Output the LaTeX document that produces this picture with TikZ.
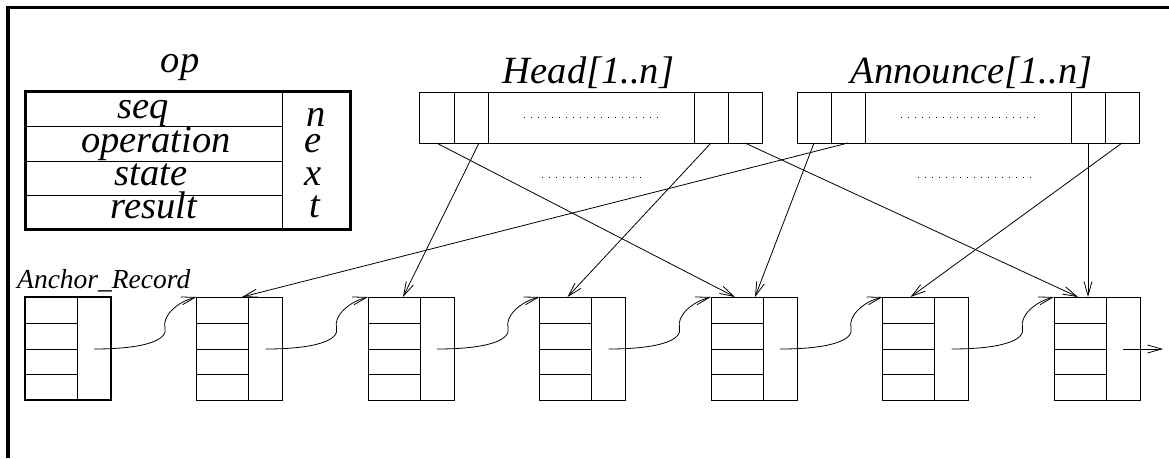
\documentclass[tikz,border=0pt]{standalone}
\usepackage{fontspec}
\setmainfont{Liberation Serif}
\usetikzlibrary{arrows.meta,calc}
\newcommand\bigit{\fontsize{38.5}{40}\selectfont\itshape}
\newcommand\smallit{\fontsize{27.5}{30}\selectfont\itshape}
\begin{document}
\begin{tikzpicture}[x=1pt,y=-1pt,
  thinl/.style={line width=0.8pt},
  cell/.style={draw, line width=0.8pt, minimum height=51pt, inner sep=0pt, outer sep=0pt},
  rec/.style={draw, line width=0.8pt, minimum width=86pt, minimum height=103pt, inner sep=0pt, outer sep=0pt},
  ptr/.style={line width=0.8pt, -{Straight Barb[length=14pt,width=8pt]}},
  lbl/.style={font=\bigit, inner sep=0pt, anchor=base},
  dots/.style={line width=0.9pt, dash pattern=on 0.9pt off 6.1pt}]
\useasboundingbox (0,0) rectangle (1169,458);
% frame
\draw[line width=3.5pt] (8,458) -- (8,7.5) -- (1169,7.5);
% op record
\node[draw, line width=3pt, minimum width=325pt, minimum height=138pt, inner sep=0pt] (optable) at (187.5,160) {};
\draw[thinl] (282.7,91) -- (282.7,229);
\foreach \yy in {126,161,195} \draw[thinl] (25,\yy) -- (282.7,\yy);
\node[lbl] (oplbl) at (180,72) {op};
\node[lbl] (fseq) at (143,118) {seq};
\node[lbl] (fop) at (156,152) {operation};
\node[lbl] (fstate) at (151,185) {state};
\node[lbl] (fres) at (154,218) {result};
\node[lbl] (nn) at (316,126) {n};
\node[lbl] (ne) at (313.5,152) {e};
\node[lbl] (nx) at (313.5,185) {x};
\node[lbl] (nt) at (315,217) {t};
% arrays
\node[lbl] (headlbl) at (588.5,83) {Head[1..n]};
\node[lbl] (annlbl) at (971.5,83) {Announce[1..n]};
\node[cell, minimum width=35pt] (h1) at (436.5,117.5) {};
\node[cell, minimum width=34pt] (h2) at (471,117.5) {};
\node[cell, minimum width=206pt] (hm) at (591,117.5) {};
\node[cell, minimum width=34pt] (hn1) at (711,117.5) {};
\node[cell, minimum width=34pt] (hn) at (745,117.5) {};
\node[cell, minimum width=34pt] (a1) at (814,117.5) {};
\node[cell, minimum width=34pt] (a2) at (848,117.5) {};
\node[cell, minimum width=206pt] (am) at (968,117.5) {};
\node[cell, minimum width=34pt] (an1) at (1088,117.5) {};
\node[cell, minimum width=34pt] (an) at (1122,117.5) {};
\draw[dots] (524,117) -- (663,117);
\draw[dots] (901,117) -- (1040,117);
\draw[dots] (542,177) -- (647,177);
\draw[dots] (918,177) -- (1037,177);
% records
\node[font=\smallit, inner sep=0pt, anchor=base west] (anchorlbl) at (17,288) {Anchor\_Record};
\foreach \i/\L in {0/25,1/196.5,2/368,3/539.5,4/711,5/882.5,6/1054} {
  \node[rec] (r\i) at (\L+43,348.5) {};
  \draw[thinl] (\L+52,297) -- (\L+52,400);
  \foreach \yy in {323,349,374} \draw[thinl] (\L,\yy) -- (\L+52,\yy);
  \coordinate (p\i) at (\L+69,349);
  \coordinate (m\i) at (\L+140,328);
}
\draw[line width=2pt] (r0.north west) rectangle (r0.south east);
\foreach \i/\j in {0/1,1/2,2/3,3/4,4/5,5/6}
  \draw[ptr] (p\i) .. controls +(51,0) and +(3,12) .. (m\i) .. controls +(-3,-12) and +(-19.5,5) .. (r\j.north west);
\coordinate (tail) at (1163,349);
\draw[ptr] (p6) -- (tail);
% pointers
\draw[ptr] (h1.south) -- ([xshift=24pt]r4.north west);
\draw[ptr] ([xshift=8pt]h2.south) -- ([xshift=35pt]r2.north west);
\draw[ptr] (hn1.south) -- ([xshift=28pt]r3.north west);
\draw[ptr] (hn.south) -- ([xshift=24pt]r6.north west);
\draw[ptr] (a1.south) -- ([xshift=44pt]r4.north west);
\draw[ptr] (a2.south) -- ([xshift=45.5pt]r1.north west);
\draw[ptr] (an1.south) -- (an1.south |- r6.north);
\draw[ptr] (an.south) -- ([xshift=28pt]r5.north west);
\end{tikzpicture}
\end{document}
